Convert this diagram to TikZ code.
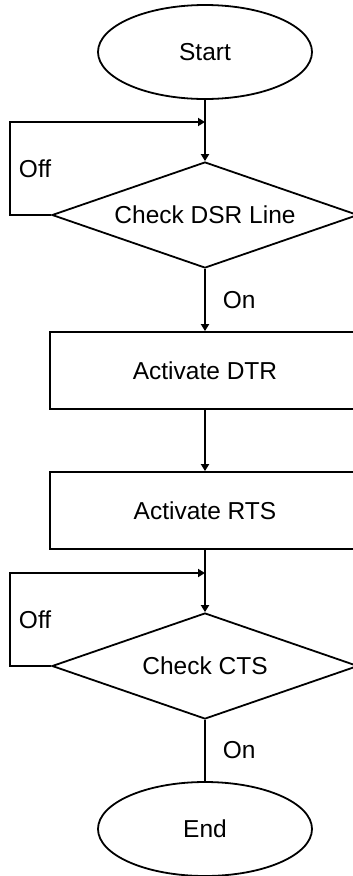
\documentclass[tikz,border=0pt]{standalone}
\usepackage{fontspec}
\setmainfont{Liberation Sans}
\usetikzlibrary{arrows.meta,shapes.geometric}
\tikzset{
  flow/.style={line width=1.8pt},
  arr/.style={flow,-{Triangle[length=7pt,width=8pt]}},
  term/.style={ellipse,draw,line width=1.8pt,minimum width=214pt,minimum height=94pt,inner sep=0pt},
  test/.style={diamond,aspect=2.9,draw,line width=1.8pt,minimum width=306pt,minimum height=106pt,inner sep=0pt},
  act/.style={rectangle,draw,line width=1.8pt,minimum width=310pt,minimum height=77pt,inner sep=0pt},
  lbl/.style={inner sep=8pt}
}

\begin{document}
\begin{tikzpicture}[x=1pt,y=-1pt,font=\fontsize{24.5}{29}\selectfont]
    \useasboundingbox (0,0) rectangle (353,876);
    \node[term] (start) at (205,52) {Start};
    \node[test] (dsr) at (205,215) {Check DSR Line};
    \node[act] (dtr) at (205,370.5) {Activate DTR};
    \node[act] (rts) at (205,510.5) {Activate RTS};
    \node[test] (cts) at (205,666) {Check CTS};
    \node[term] (end) at (205,829) {End};
    \coordinate (j1) at (205,122);
    \coordinate (j2) at (205,573);
    \draw[arr] (start) -- (dsr);
    \draw[arr] (dsr.west) -- ++(-41,0) |- node[pos=0.25,right,lbl]{Off} (j1);
    \draw[arr] (dsr) -- node[right,lbl,xshift=9pt]{On} (dtr);
    \draw[arr] (dtr) -- (rts);
    \draw[arr] (rts) -- (cts);
    \draw[arr] (cts.west) -- ++(-41,0) |- node[pos=0.25,right,lbl]{Off} (j2);
    \draw[flow] (cts) -- node[right,lbl,xshift=9pt]{On} (end);
  \end{tikzpicture}
\end{document}
